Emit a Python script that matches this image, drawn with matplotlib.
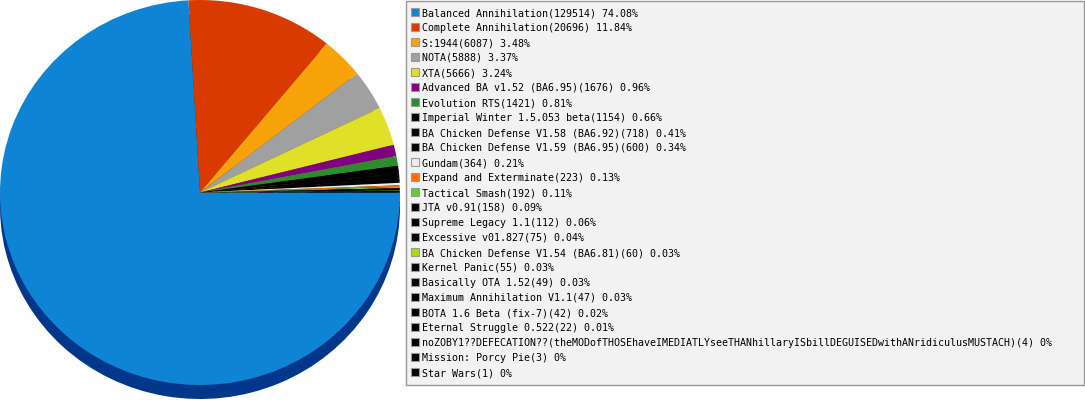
import matplotlib
matplotlib.use('Agg')  # headless
import matplotlib.pyplot as plt
from matplotlib.patches import Rectangle
from matplotlib.colors import to_rgb

# mod name, number of games, share as printed
mods = ["Balanced Annihilation", "Complete Annihilation", "S:1944", "NOTA", "XTA",
        "Advanced BA v1.52 (BA6.95)", "Evolution RTS", "Imperial Winter 1.5.053 beta",
        "BA Chicken Defense V1.58 (BA6.92)", "BA Chicken Defense V1.59 (BA6.95)",
        "Gundam", "Expand and Exterminate", "Tactical Smash", "JTA v0.91",
        "Supreme Legacy 1.1", "Excessive v01.827", "BA Chicken Defense V1.54 (BA6.81)",
        "Kernel Panic", "Basically OTA 1.52", "Maximum Annihilation V1.1",
        "BOTA 1.6 Beta (fix-7)", "Eternal Struggle 0.522",
        "noZOBY1??DEFECATION??(theMODofTHOSEhaveIMEDIATLYseeTHANhillaryISbillDEGUISEDwithANridiculusMUSTACH)",
        "Mission: Porcy Pie", "Star Wars"]
games = [129514, 20696, 6087, 5888, 5666, 1676, 1421, 1154, 718, 600, 364, 223, 192,
         158, 112, 75, 60, 55, 49, 47, 42, 22, 4, 3, 1]
shares = ["74.08", "11.84", "3.48", "3.37", "3.24", "0.96", "0.81", "0.66", "0.41",
          "0.34", "0.21", "0.13", "0.11", "0.09", "0.06", "0.04", "0.03", "0.03",
          "0.03", "0.03", "0.02", "0.01", "0", "0", "0"]
colors = ["#1084d4", "#d93a00", "#f8a20a", "#a0a0a0", "#e0e028", "#800080", "#2e8b2e",
          "#000000", "#000000", "#000000", "#eeeeee", "#ff6a14", "#66cc33", "#000000",
          "#000000", "#000000", "#aadd00", "#000000", "#000000", "#000000", "#000000",
          "#000000", "#000000", "#000000", "#000000"]

W, H = 1085, 400
fig = plt.figure(figsize=(W / 100, H / 100), dpi=100)
fig.patch.set_facecolor("white")

# pie: rx=200px, ry=192.5px, centre at (200, 192.5) from top-left, 14px deep
ry = 192.5
cy = 192.5
depth = 14 / ry
ax = fig.add_axes([0, 0, 400 / W, 1])
shadow = ["#00378a" if i == 0 else tuple(c * 0.5 for c in to_rgb(col))
          for i, col in enumerate(colors)]
ax.pie(games, colors=shadow, startangle=0, counterclock=False, center=(0, -depth),
       wedgeprops=dict(linewidth=0))
ax.pie(games, colors=colors, startangle=0, counterclock=False, center=(0, 0),
       wedgeprops=dict(linewidth=0))
ax.set_aspect("auto")
ax.set_xlim(-1, 1)
ax.set_ylim(-(H - cy) / ry, cy / ry)
ax.axis("off")

# legend box drawn in pixel coordinates
lg = fig.add_axes([0, 0, 1, 1])
lg.set_xlim(0, W)
lg.set_ylim(H, 0)
lg.axis("off")
lg.add_patch(Rectangle((405.5, 0.5), 678, 384.5, facecolor="#f2f2f2",
                       edgecolor="#999999", linewidth=1))
for i, (name, n, s, col) in enumerate(zip(mods, games, shares, colors)):
    y = 7.5 + 15 * i
    lg.add_patch(Rectangle((410.5, y), 8, 8, facecolor=col, edgecolor="#999999",
                           linewidth=0.8))
    lg.text(422, y + 8.5, f"{name}({n}) {s}%", fontsize=7.2,
            family="DejaVu Sans Mono", color="#000000", va="baseline", ha="left")

fig.savefig("out.png", dpi=100)
plt.close(fig)
